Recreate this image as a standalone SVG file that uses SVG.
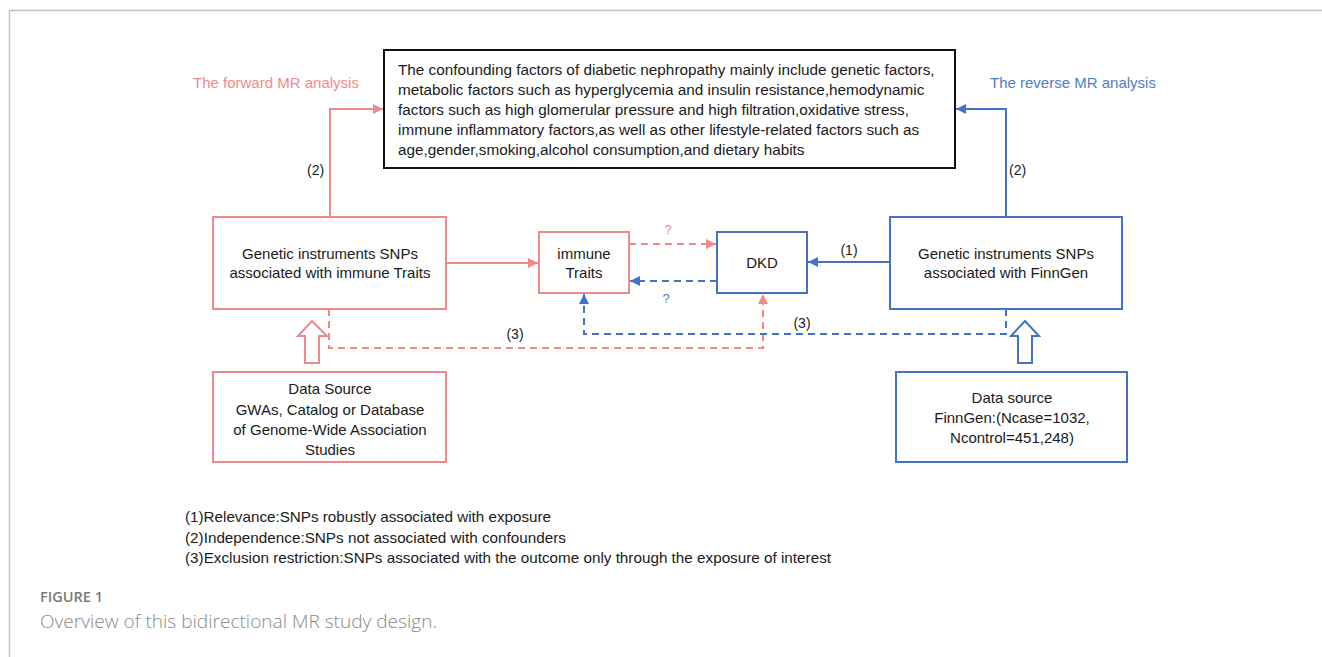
<svg xmlns="http://www.w3.org/2000/svg" width="1322" height="657" viewBox="0 0 1322 657">
<style>
text{font-family:"Liberation Sans",Arial,sans-serif;font-size:15px;fill:#1a1a1a}
.c{text-anchor:middle}
.t{font-size:15.3px}
.pk{fill:#F08A8A}
.bl{fill:#4F7CC6}
.boxp{fill:#fff;stroke:#F08A8A;stroke-width:2}
.boxb{fill:#fff;stroke:#4472C4;stroke-width:2}
.lp{fill:none;stroke:#F08A8A;stroke-width:2}
.lb{fill:none;stroke:#4472C4;stroke-width:2}
.d{stroke-dasharray:7,5}
.leg{font-size:15px}
</style>
<defs>
<marker id="ap" viewBox="0 0 10 10" refX="10" refY="5" markerWidth="6" markerHeight="5" markerUnits="strokeWidth" orient="auto"><path d="M0,0L10,5L0,10z" fill="#F08A8A"/></marker>
<marker id="ab" viewBox="0 0 10 10" refX="10" refY="5" markerWidth="6" markerHeight="5" markerUnits="strokeWidth" orient="auto"><path d="M0,0L10,5L0,10z" fill="#4472C4"/></marker>
</defs>
<rect width="1322" height="657" fill="#fff"/>
<path d="M9.5,657V10.5H1322" fill="none" stroke="#c4c4c4" stroke-width="1.5"/>

<g id="connectors">
<path class="lp" d="M330,217V109H383" marker-end="url(#ap)"/>
<path class="lb" d="M1006,217V109H956" marker-end="url(#ab)"/>
<path class="lp" d="M446,263H538" marker-end="url(#ap)"/>
<path class="lb" d="M890,262H808" marker-end="url(#ab)"/>
<path class="lp d" d="M629,244H716" marker-end="url(#ap)"/>
<path class="lb d" d="M717,281H630" marker-end="url(#ab)"/>
<path class="lp d" d="M329,309V348H763V294" marker-end="url(#ap)"/>
<path class="lb d" d="M1006,309V334H584V294" marker-end="url(#ab)"/>
<path class="lp" d="M312,321L327,336H319V363H305V336H298Z" fill="#fff"/>
<path class="lb" d="M1025,321L1039,336H1032V363H1018V336H1011Z" fill="#fff"/>
<text class="pk" x="193" y="88">The forward MR analysis</text>
<text class="bl" x="990" y="88">The reverse MR analysis</text>
<text x="307" y="175" style="font-size:14px">(2)</text>
<text x="1009" y="175" style="font-size:14px">(2)</text>
<text class="pk c" x="668" y="234" style="font-size:13px">?</text>
<text class="bl c" x="666" y="303" style="font-size:13px">?</text>
<text class="c" x="849" y="255" style="font-size:14px">(1)</text>
<text class="c" x="515" y="339" style="font-size:14px">(3)</text>
<text class="c" x="802" y="328" style="font-size:14px">(3)</text>
</g>

<g id="confounders">
<rect x="384" y="50" width="571" height="118" fill="#fff" stroke="#111" stroke-width="2"/>
<text class="t" x="398" y="75">The confounding factors of diabetic nephropathy mainly include genetic factors,</text>
<text class="t" x="398" y="95">metabolic factors such as hyperglycemia and insulin resistance,hemodynamic</text>
<text class="t" x="398" y="115">factors such as high glomerular pressure and high filtration,oxidative stress,</text>
<text class="t" x="398" y="135">immune inflammatory factors,as well as other lifestyle-related factors such as</text>
<text class="t" x="398" y="155">age,gender,smoking,alcohol consumption,and dietary habits</text>
</g>

<g id="snp-immune">
<rect class="boxp" x="213" y="217" width="233" height="92"/>
<text class="c" x="330" y="259">Genetic instruments SNPs</text>
<text class="c" x="330" y="278">associated with immune Traits</text>
</g>

<g id="immune-traits">
<rect class="boxp" x="539" y="232" width="90" height="61"/>
<text class="c" x="584" y="259">immune</text>
<text class="c" x="584" y="278">Traits</text>
</g>

<g id="dkd">
<rect class="boxb" x="717" y="232" width="90" height="61"/>
<text class="c" x="762" y="268">DKD</text>
</g>

<g id="snp-finngen">
<rect class="boxb" x="890" y="217" width="232" height="92"/>
<text class="c" x="1006" y="259">Genetic instruments SNPs</text>
<text class="c" x="1006" y="278">associated with FinnGen</text>
</g>

<g id="data-source-left">
<rect class="boxp" x="213" y="372" width="233" height="90"/>
<text class="c" x="330" y="394">Data Source</text>
<text class="c" x="330" y="415">GWAs, Catalog or Database</text>
<text class="c" x="330" y="435">of Genome-Wide Association</text>
<text class="c" x="330" y="455">Studies</text>
</g>

<g id="data-source-right">
<rect class="boxb" x="896" y="372" width="231" height="90"/>
<text class="c" x="1012" y="403">Data source</text>
<text class="c" x="1012" y="423">FinnGen:(Ncase=1032,</text>
<text class="c" x="1012" y="443">Ncontrol=451,248)</text>
</g>

<g id="legend">
<text class="leg" x="185" y="522" textLength="366" lengthAdjust="spacingAndGlyphs">(1)Relevance:SNPs robustly associated with exposure</text>
<text class="leg" x="185" y="543" textLength="381" lengthAdjust="spacingAndGlyphs">(2)Independence:SNPs not associated with confounders</text>
<text class="leg" x="185" y="563" textLength="646" lengthAdjust="spacingAndGlyphs">(3)Exclusion restriction:SNPs associated with the outcome only through the exposure of interest</text>
</g>

<g id="caption">
<text x="40" y="602" textLength="63" lengthAdjust="spacingAndGlyphs" style="font-family:'Open Sans',sans-serif;font-size:14px;fill:#7a7a7a;font-weight:600">FIGURE 1</text>
<text x="40" y="628" textLength="397" lengthAdjust="spacingAndGlyphs" style="font-family:'Open Sans',sans-serif;font-size:19px;fill:#8a8a8a;font-weight:300">Overview of this bidirectional MR study design.</text>
</g>
</svg>
